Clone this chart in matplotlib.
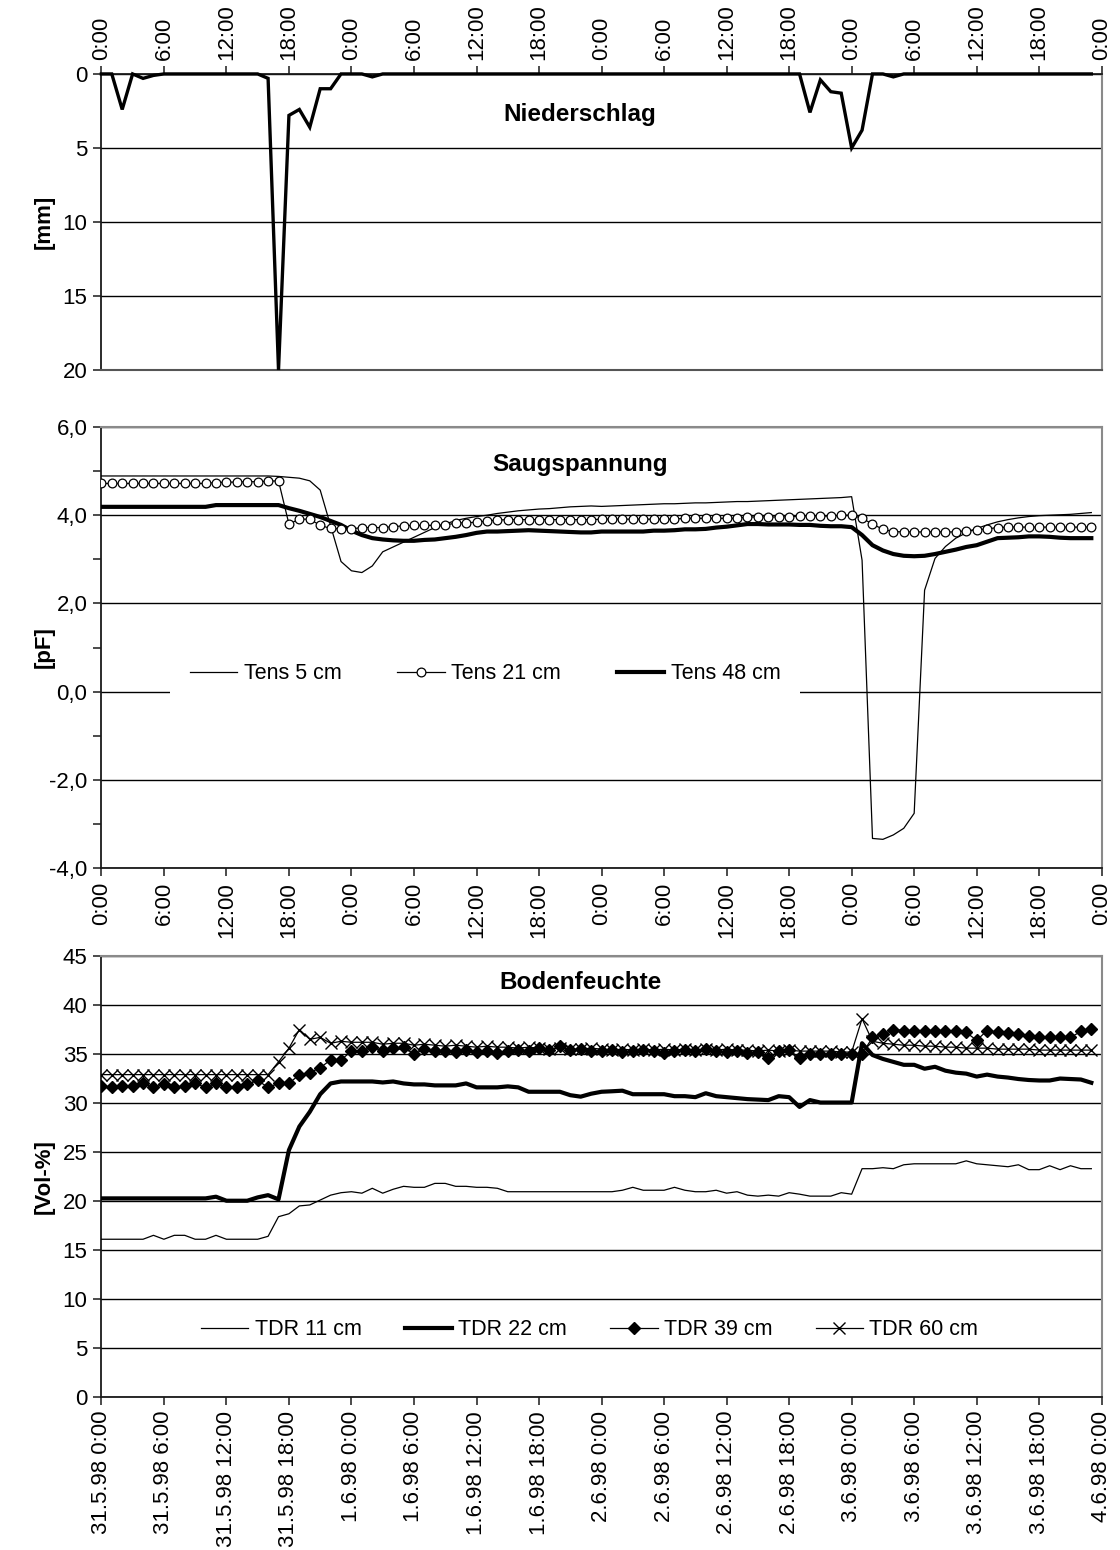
import numpy as np
import matplotlib
matplotlib.use("Agg")
import matplotlib.pyplot as plt
from matplotlib.ticker import MultipleLocator, FuncFormatter
from matplotlib.lines import Line2D

plt.rcParams['font.family'] = ['Liberation Sans', 'DejaVu Sans']

# Hourly measurements from 31.5.98 0:00 to 3.6.98 23:00
hours = np.arange(96)

niederschlag = [
    0.0, 0.0, 2.4, 0.0, 0.3, 0.1, 0.0, 0.0, 0.0, 0.0, 0.0, 0.0,
    0.0, 0.0, 0.0, 0.0, 0.3, 20.0, 2.8, 2.4, 3.6, 1.0, 1.0, 0.0,
    0.0, 0.0, 0.2, 0.0, 0.0, 0.0, 0.0, 0.0, 0.0, 0.0, 0.0, 0.0,
    0.0, 0.0, 0.0, 0.0, 0.0, 0.0, 0.0, 0.0, 0.0, 0.0, 0.0, 0.0,
    0.0, 0.0, 0.0, 0.0, 0.0, 0.0, 0.0, 0.0, 0.0, 0.0, 0.0, 0.0,
    0.0, 0.0, 0.0, 0.0, 0.0, 0.0, 0.0, 0.0, 2.6, 0.4, 1.2, 1.3,
    5.0, 3.8, 0.0, 0.0, 0.2, 0.0, 0.0, 0.0, 0.0, 0.0, 0.0, 0.0,
    0.0, 0.0, 0.0, 0.0, 0.0, 0.0, 0.0, 0.0, 0.0, 0.0, 0.0, 0.0,
]

tens_5 = [
    4.89, 4.89, 4.89, 4.89, 4.89, 4.89, 4.89, 4.89, 4.89, 4.89, 4.89, 4.89,
    4.89, 4.89, 4.89, 4.89, 4.89, 4.88, 4.86, 4.84, 4.78, 4.57, 3.76, 2.95,
    2.74, 2.70, 2.85, 3.17, 3.28, 3.39, 3.50, 3.61, 3.72, 3.80, 3.88, 3.93,
    3.97, 4.00, 4.04, 4.07, 4.10, 4.12, 4.14, 4.15, 4.17, 4.19, 4.20, 4.21,
    4.20, 4.21, 4.22, 4.23, 4.24, 4.25, 4.26, 4.26, 4.27, 4.28, 4.28, 4.29,
    4.30, 4.31, 4.31, 4.32, 4.33, 4.34, 4.35, 4.36, 4.37, 4.38, 4.39, 4.40,
    4.42, 2.98, -3.33, -3.35, -3.25, -3.10, -2.76, 2.30, 3.02, 3.29, 3.48, 3.60,
    3.70, 3.78, 3.85, 3.90, 3.94, 3.97, 3.99, 4.00, 4.01, 4.02, 4.04, 4.06,
]

tens_21 = [
    4.72, 4.72, 4.72, 4.72, 4.72, 4.72, 4.72, 4.72, 4.72, 4.72, 4.72, 4.74,
    4.75, 4.75, 4.76, 4.76, 4.77, 4.78, 3.80, 3.91, 3.91, 3.77, 3.70, 3.69,
    3.69, 3.72, 3.72, 3.72, 3.74, 3.76, 3.77, 3.77, 3.77, 3.78, 3.82, 3.83,
    3.84, 3.87, 3.89, 3.90, 3.90, 3.90, 3.90, 3.90, 3.90, 3.90, 3.90, 3.90,
    3.91, 3.91, 3.91, 3.91, 3.91, 3.91, 3.91, 3.91, 3.93, 3.93, 3.93, 3.93,
    3.93, 3.93, 3.96, 3.96, 3.96, 3.96, 3.96, 3.98, 3.98, 3.98, 3.98, 4.00,
    4.00, 3.93, 3.80, 3.68, 3.63, 3.62, 3.62, 3.62, 3.62, 3.62, 3.62, 3.65,
    3.67, 3.69, 3.72, 3.73, 3.73, 3.73, 3.73, 3.73, 3.73, 3.73, 3.73, 3.73,
]

tens_48 = [
    4.19, 4.19, 4.19, 4.19, 4.19, 4.19, 4.19, 4.19, 4.19, 4.19, 4.19, 4.23,
    4.23, 4.23, 4.23, 4.23, 4.23, 4.23, 4.16, 4.10, 4.03, 3.96, 3.87, 3.78,
    3.65, 3.55, 3.48, 3.45, 3.43, 3.42, 3.42, 3.44, 3.45, 3.48, 3.51, 3.55,
    3.60, 3.63, 3.63, 3.64, 3.65, 3.66, 3.65, 3.64, 3.63, 3.62, 3.61, 3.61,
    3.63, 3.63, 3.63, 3.63, 3.63, 3.65, 3.65, 3.66, 3.68, 3.68, 3.69, 3.72,
    3.74, 3.77, 3.80, 3.80, 3.79, 3.79, 3.79, 3.78, 3.78, 3.76, 3.75, 3.75,
    3.73, 3.55, 3.32, 3.20, 3.12, 3.08, 3.07, 3.08, 3.12, 3.17, 3.22, 3.28,
    3.32, 3.40, 3.48, 3.49, 3.50, 3.52, 3.52, 3.51, 3.49, 3.48, 3.48, 3.48,
]

tdr_11 = [
    16.1, 16.1, 16.1, 16.1, 16.1, 16.5, 16.1, 16.5, 16.5, 16.1, 16.1, 16.5,
    16.1, 16.1, 16.1, 16.1, 16.4, 18.4, 18.7, 19.5, 19.6, 20.1, 20.6, 20.85,
    20.95, 20.8, 21.3, 20.8, 21.2, 21.5, 21.4, 21.4, 21.8, 21.8, 21.5, 21.5,
    21.4, 21.4, 21.3, 20.95, 20.95, 20.95, 20.95, 20.95, 20.95, 20.95, 20.95, 20.95,
    20.95, 20.95, 21.1, 21.4, 21.1, 21.1, 21.1, 21.4, 21.1, 20.95, 20.95, 21.1,
    20.8, 20.95, 20.6, 20.5, 20.6, 20.5, 20.85, 20.7, 20.5, 20.5, 20.5, 20.85,
    20.7, 23.3, 23.3, 23.4, 23.3, 23.7, 23.8, 23.8, 23.8, 23.8, 23.8, 24.1,
    23.8, 23.7, 23.6, 23.5, 23.7, 23.2, 23.2, 23.6, 23.2, 23.6, 23.3, 23.3,
]

tdr_22 = [
    20.27, 20.27, 20.27, 20.27, 20.27, 20.27, 20.27, 20.27, 20.27, 20.27, 20.27, 20.44,
    20.03, 20.03, 20.03, 20.37, 20.6, 20.17, 25.2, 27.6, 29.1, 30.9, 32.0, 32.2,
    32.2, 32.2, 32.2, 32.1, 32.2, 32.0, 31.9, 31.9, 31.8, 31.8, 31.8, 32.0,
    31.6, 31.6, 31.6, 31.7, 31.6, 31.15, 31.15, 31.15, 31.15, 30.8, 30.65, 30.95,
    31.15, 31.2, 31.26, 30.9, 30.9, 30.9, 30.9, 30.7, 30.7, 30.6, 31.0, 30.7,
    30.6, 30.5, 30.4, 30.35, 30.3, 30.7, 30.6, 29.6, 30.3, 30.05, 30.05, 30.05,
    30.05, 36.1, 34.9, 34.5, 34.2, 33.9, 33.9, 33.5, 33.7, 33.3, 33.1, 33.0,
    32.7, 32.9, 32.7, 32.6, 32.45, 32.35, 32.3, 32.3, 32.5, 32.45, 32.4, 32.07,
]

tdr_39 = [
    31.7, 31.6, 31.7, 31.7, 32.0, 31.6, 31.9, 31.6, 31.7, 32.0, 31.6, 32.0,
    31.6, 31.6, 31.9, 32.3, 31.6, 32.0, 32.0, 32.9, 33.1, 33.6, 34.4, 34.4,
    35.3, 35.3, 35.7, 35.3, 35.6, 35.7, 35.0, 35.5, 35.3, 35.3, 35.2, 35.4,
    35.2, 35.3, 35.1, 35.3, 35.4, 35.3, 35.6, 35.4, 35.8, 35.4, 35.5, 35.3,
    35.3, 35.4, 35.2, 35.3, 35.4, 35.3, 35.1, 35.3, 35.4, 35.3, 35.5, 35.3,
    35.2, 35.3, 35.1, 35.2, 34.6, 35.3, 35.4, 34.6, 35.0, 35.0, 35.0, 35.0,
    35.0, 35.0, 36.7, 37.0, 37.5, 37.4, 37.4, 37.4, 37.4, 37.4, 37.3, 37.2,
    36.4, 37.4, 37.2, 37.1, 37.0, 36.8, 36.7, 36.7, 36.7, 36.7, 37.3, 37.6,
]

tdr_60 = [
    32.9, 32.9, 32.9, 32.9, 32.9, 32.9, 32.9, 32.9, 32.9, 32.9, 32.9, 32.9,
    32.9, 32.9, 32.9, 32.9, 32.9, 34.2, 35.6, 37.5, 36.5, 36.7, 36.1, 36.3,
    36.2, 36.2, 36.2, 36.0, 36.1, 36.1, 35.9, 36.0, 35.9, 35.8, 35.9, 35.8,
    35.7, 35.8, 35.7, 35.7, 35.6, 35.7, 35.6, 35.5, 35.6, 35.5, 35.5, 35.6,
    35.5, 35.4, 35.5, 35.4, 35.5, 35.4, 35.5, 35.4, 35.5, 35.4, 35.5, 35.4,
    35.5, 35.4, 35.4, 35.3, 35.4, 35.3, 35.4, 35.3, 35.3, 35.3, 35.3, 35.2,
    35.2, 38.6, 36.3, 36.1, 36.0, 35.9, 35.9, 35.8, 35.8, 35.7, 35.7, 35.6,
    35.6, 35.6, 35.5, 35.5, 35.5, 35.5, 35.4, 35.4, 35.4, 35.4, 35.4, 35.4,
]

tick_hours = np.arange(0, 97, 6)
time_labels = ["0:00", "6:00", "12:00", "18:00"] * 4 + ["0:00"]
days = ["31.5.98", "1.6.98", "2.6.98", "3.6.98", "4.6.98"]
date_labels = [f"{days[i // 4]} {t}" for i, t in enumerate(time_labels)]

AXIS_COL = "#1a1a1a"
BORDER_COL = "#8a8a8a"
TICK_FS = 16
TITLE_FS = 17.5
LABEL_X = -0.047

fig = plt.figure(figsize=(11.2, 15.5), dpi=100)
left, width = 0.0905, 0.8932
ax1 = fig.add_axes([left, 0.7613, width, 0.1910])
ax2 = fig.add_axes([left, 0.4400, width, 0.2845])
ax3 = fig.add_axes([left, 0.0987, width, 0.2845])


def style_axes(ax, axis_side):
    for side, sp in ax.spines.items():
        if side in ("left", axis_side):
            sp.set_color(AXIS_COL)
            sp.set_linewidth(1.3)
        else:
            sp.set_color(BORDER_COL)
            sp.set_linewidth(1.5)
    ax.tick_params(which="both", direction="out", length=6, width=1.1,
                   color=AXIS_COL, labelsize=TICK_FS, pad=4)
    ax.set_xlim(0, 96)
    ax.set_xticks(tick_hours)
    ax.yaxis.grid(True, which="major", color="black", linewidth=1.0)
    ax.set_axisbelow(True)


# --- Niederschlag ---
style_axes(ax1, "top")
ax1.spines["bottom"].set_color("#555555")
ax1.xaxis.set_ticks_position("top")
ax1.set_xticklabels(time_labels, rotation=90)
ax1.set_ylim(20, 0)
ax1.yaxis.set_major_locator(MultipleLocator(5))
ax1.plot(hours, niederschlag, color="black", linewidth=2.4, clip_on=False,
         solid_joinstyle="miter", zorder=3)
ax1.text(0.4785, 0.8615, "Niederschlag", transform=ax1.transAxes,
         ha="center", va="center", fontsize=TITLE_FS, fontweight="bold")
ax1.set_ylabel("[mm]", fontsize=16, fontweight="bold")
ax1.yaxis.set_label_coords(LABEL_X, 0.5)

# --- Saugspannung ---
style_axes(ax2, "bottom")
ax2.set_xticklabels(time_labels, rotation=90)
ax2.set_ylim(-4, 6)
ax2.yaxis.set_major_locator(MultipleLocator(2))
ax2.yaxis.set_minor_locator(MultipleLocator(1))
ax2.yaxis.set_major_formatter(FuncFormatter(lambda v, p: f"{v:.1f}".replace(".", ",")))
ax2.plot(hours, tens_5, color="black", linewidth=0.9, zorder=3)
ax2.plot(hours, tens_21, color="black", linewidth=0.9, marker="o", markersize=6.3,
         markerfacecolor="white", markeredgecolor="black", markeredgewidth=0.9, zorder=4)
ax2.plot(hours, tens_48, color="black", linewidth=3.0, zorder=3)
ax2.text(0.4785, 0.914, "Saugspannung", transform=ax2.transAxes,
         ha="center", va="center", fontsize=TITLE_FS, fontweight="bold")
ax2.set_ylabel("[pF]", fontsize=16, fontweight="bold")
ax2.yaxis.set_label_coords(LABEL_X, 0.5)
h_tens = [
    Line2D([], [], color="black", linewidth=0.9),
    Line2D([], [], color="black", linewidth=0.9, marker="o", markersize=6.3,
           markerfacecolor="white", markeredgecolor="black", markeredgewidth=0.9),
    Line2D([], [], color="black", linewidth=3.0),
]
leg2 = ax2.legend(h_tens, ["Tens 5 cm", "Tens 21 cm", "Tens 48 cm"], ncol=3,
                  loc="center", bbox_to_anchor=(0.3835, 0.44), fontsize=15.5,
                  frameon=True, facecolor="white", edgecolor="none", framealpha=1,
                  fancybox=False, handlelength=2.2, handletextpad=0.3,
                  columnspacing=2.6, borderpad=0.9)
leg2.set_zorder(5)

# --- Bodenfeuchte ---
style_axes(ax3, "bottom")
ax3.set_xticklabels(date_labels, rotation=90)
ax3.set_ylim(0, 45)
ax3.yaxis.set_major_locator(MultipleLocator(5))
ax3.plot(hours, tdr_11, color="black", linewidth=0.9, zorder=3)
ax3.plot(hours, tdr_22, color="black", linewidth=3.0, zorder=3)
ax3.plot(hours, tdr_39, color="black", linewidth=0.9, marker="D", markersize=6,
         markerfacecolor="black", markeredgecolor="black", zorder=4)
ax3.plot(hours, tdr_60, color="black", linewidth=0.9, marker="x", markersize=8,
         markeredgewidth=1.0, zorder=5)
ax3.text(0.4785, 0.939, "Bodenfeuchte", transform=ax3.transAxes,
         ha="center", va="center", fontsize=TITLE_FS, fontweight="bold")
ax3.set_ylabel("[Vol-%]", fontsize=16, fontweight="bold")
ax3.yaxis.set_label_coords(LABEL_X, 0.5)
h_tdr = [
    Line2D([], [], color="black", linewidth=0.9),
    Line2D([], [], color="black", linewidth=3.0),
    Line2D([], [], color="black", linewidth=0.9, marker="D", markersize=6),
    Line2D([], [], color="black", linewidth=0.9, marker="x", markersize=8,
           markeredgewidth=1.0),
]
ax3.legend(h_tdr, ["TDR 11 cm", "TDR 22 cm", "TDR 39 cm", "TDR 60 cm"], ncol=4,
           loc="center", bbox_to_anchor=(0.488, 0.152), fontsize=15.5,
           frameon=False, handlelength=2.2, handletextpad=0.3, columnspacing=2.0)

fig.savefig("out.png", dpi=100, facecolor="white")
